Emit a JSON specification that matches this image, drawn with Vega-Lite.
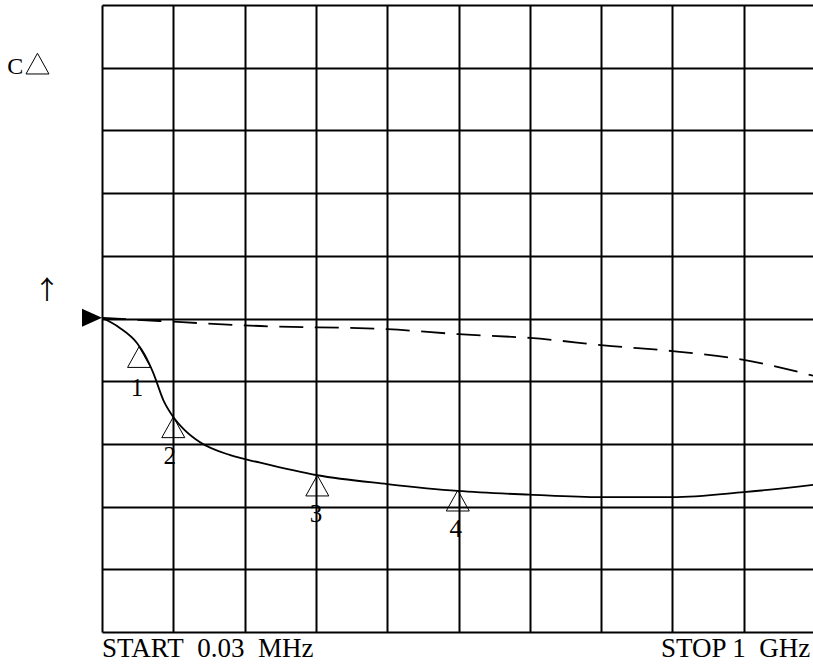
{
  "$schema": "https://vega.github.io/schema/vega-lite/v6.json",
  "width": 713,
  "height": 627,
  "autosize": "none",
  "padding": {"left": 102, "top": 5, "right": 0, "bottom": 32},
  "background": "white",
  "config": {"view": {"stroke": null}, "text": {"font": "Liberation Serif", "color": "black"}},
  "datasets": {
    "solid": [
      {"x": 0, "y": 5.01}, {"x": 0.25, "y": 4.85}, {"x": 0.49, "y": 4.61}, {"x": 0.6, "y": 4.42},
      {"x": 0.72, "y": 4.13}, {"x": 0.86, "y": 3.7}, {"x": 1.0, "y": 3.43}, {"x": 1.16, "y": 3.22},
      {"x": 1.37, "y": 3.03}, {"x": 1.8, "y": 2.82}, {"x": 2.22, "y": 2.7}, {"x": 3.02, "y": 2.5},
      {"x": 4.0, "y": 2.36}, {"x": 4.99, "y": 2.25}, {"x": 6.0, "y": 2.19}, {"x": 7.0, "y": 2.15},
      {"x": 8.0, "y": 2.15}, {"x": 9.0, "y": 2.23}, {"x": 10, "y": 2.35}
    ],
    "dashed": [
      {"x": 0, "y": 5.01}, {"x": 0.81, "y": 4.96}, {"x": 2.22, "y": 4.88}, {"x": 4.0, "y": 4.83},
      {"x": 5.0, "y": 4.75}, {"x": 6.0, "y": 4.69}, {"x": 7.15, "y": 4.56}, {"x": 8.0, "y": 4.48},
      {"x": 9.0, "y": 4.34}, {"x": 10, "y": 4.08}
    ],
    "markers": [
      {"x": 0.52, "y": 4.55}, {"x": 1.0, "y": 3.43}, {"x": 3.02, "y": 2.5}, {"x": 4.99, "y": 2.26},
      {"x": -0.905, "y": 9.23}
    ],
    "markerLabels": [
      {"x": 0.49, "y": 3.76, "t": "1"}, {"x": 0.95, "y": 2.68, "t": "2"},
      {"x": 3.0, "y": 1.76, "t": "3"}, {"x": 4.96, "y": 1.52, "t": "4"}
    ],
    "leftTexts": [
      {"x": -1.33, "y": 8.9, "t": "C"}
    ],
    "arrow": [{"x": -0.77, "y": 5.31, "t": "↑"}],
    "ref": [{"x": 0, "y": 5.01}],
    "bottom": [
      {"x": 0, "y": -0.398, "t": "START\u00a0 0.03\u00a0 MHz"},
      {"x": 7.84, "y": -0.398, "t": "STOP 1\u00a0 GHz"}
    ]
  },
  "encoding": {
    "x": {"field": "x", "type": "quantitative", "scale": {"domain": [0, 10], "nice": false, "zero": false},
      "axis": {"values": [0,1,2,3,4,5,6,7,8,9,10], "grid": true, "gridColor": "black", "gridWidth": 2, "gridOpacity": 1, "domain": false, "ticks": false, "labels": false, "title": null}},
    "y": {"field": "y", "type": "quantitative", "scale": {"domain": [0, 10], "nice": false, "zero": false},
      "axis": {"values": [0,1,2,3,4,5,6,7,8,9,10], "grid": true, "gridColor": "black", "gridWidth": 2, "gridOpacity": 1, "domain": false, "ticks": false, "labels": false, "title": null}}
  },
  "layer": [
    {
      "data": {"name": "dashed"},
      "mark": {"type": "line", "color": "black", "strokeWidth": 1.8, "strokeDash": [24, 11.5], "interpolate": "monotone", "clip": true}
    },
    {
      "data": {"name": "solid"},
      "mark": {"type": "line", "color": "black", "strokeWidth": 1.8, "interpolate": "monotone", "clip": true}
    },
    {
      "data": {"name": "markers"},
      "mark": {"type": "point", "shape": "M0,0L1,1.8L-1,1.8Z", "size": 529, "filled": false, "stroke": "black", "strokeWidth": 1, "opacity": 1}
    },
    {
      "data": {"name": "ref"},
      "mark": {"type": "point", "shape": "M0,0L-1,-0.45L-1,0.45Z", "size": 1600, "filled": true, "fill": "black", "opacity": 1, "strokeWidth": 0}
    },
    {
      "data": {"name": "markerLabels"},
      "mark": {"type": "text", "fontSize": 25, "align": "center", "baseline": "alphabetic"},
      "encoding": {"text": {"field": "t"}}
    },
    {
      "data": {"name": "leftTexts"},
      "mark": {"type": "text", "fontSize": 24, "align": "left", "baseline": "alphabetic"},
      "encoding": {"text": {"field": "t"}}
    },
    {
      "data": {"name": "arrow"},
      "mark": {"type": "text", "font": "Noto Sans CJK JP", "fontSize": 26, "align": "center", "baseline": "alphabetic", "color": "black"},
      "encoding": {"text": {"field": "t"}}
    },
    {
      "data": {"name": "bottom"},
      "mark": {"type": "text", "fontSize": 27, "align": "left", "baseline": "alphabetic"},
      "encoding": {"text": {"field": "t"}}
    }
  ]
}
